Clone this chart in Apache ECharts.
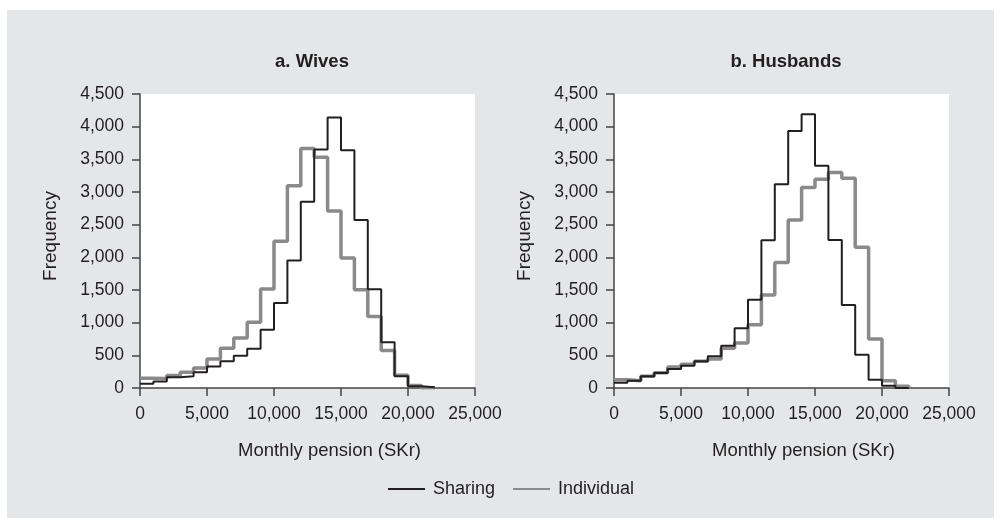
<!DOCTYPE html>
<html>
<head>
<meta charset="utf-8">
<script src="https://cdn.jsdelivr.net/npm/echarts@6/dist/echarts.min.js"></script>
<style>
html,body{margin:0;padding:0;background:#fff;}
#chart{width:1001px;height:528px;}
</style>
</head>
<body>
<div id="chart"></div>
<script>
// Bin left edges (SKr), bin width 1000
var binStarts = [0,1000,2000,3000,4000,5000,6000,7000,8000,9000,10000,11000,12000,13000,14000,15000,16000,17000,18000,19000,20000,21000];
var binEnd = 22000;
var wivesSharing    = [66,100,165,180,240,330,410,495,600,890,1300,1950,2850,3650,4140,3640,2570,1510,700,180,25,10];
var wivesIndividual = [150,145,190,240,305,445,610,765,1005,1515,2245,3095,3665,3530,2710,1990,1505,1095,575,195,40,5];
var husbSharing     = [80,112,178,230,290,340,408,485,645,915,1350,2260,3120,3935,4190,3400,2265,1270,510,125,35,0];
var husbIndividual  = [125,112,178,235,320,365,410,445,610,690,970,1425,1920,2570,3070,3195,3300,3210,2155,750,110,25];
var panelTitles = ['a. Wives','b. Husbands'];
var xName = 'Monthly pension (SKr)';
var yName = 'Frequency';

function steps(vals){
  var d = binStarts.map(function(x,i){return [x, vals[i]];});
  d.push([binEnd, 0]);
  return d;
}
var font = 'Liberation Sans, Arial, Helvetica, sans-serif';
var txt = '#231f20';
var axisCol = '#444';
function fmt(v){return v.toLocaleString('en-US');}

var grids = [
  {left:140, top:94, width:335, height:294, show:true, backgroundColor:'#fff', borderWidth:0},
  {left:614, top:94, width:335, height:294, show:true, backgroundColor:'#fff', borderWidth:0}
];
function xAx(i){return {gridIndex:i, type:'value', min:0, max:25000, interval:5000,
  name:xName, nameLocation:'middle', nameGap:53,
  nameTextStyle:{fontFamily:font, fontSize:18.5, color:txt, padding:[0,0,0,44]},
  axisLine:{show:true, lineStyle:{color:axisCol, width:1.5}},
  axisTick:{show:true, length:8, lineStyle:{color:axisCol, width:1.5}},
  axisLabel:{fontFamily:font, fontSize:17.5, color:txt, margin:17, formatter:fmt},
  splitLine:{show:false}};}
function yAx(i){return {gridIndex:i, type:'value', min:0, max:4500, interval:500,
  name:yName, nameLocation:'middle', nameGap:80, nameRotate:90,
  nameTextStyle:{fontFamily:font, fontSize:19, color:txt, padding:[0,0,0,10]},
  axisLine:{show:true, lineStyle:{color:axisCol, width:1.5}},
  axisTick:{show:true, length:8, lineStyle:{color:axisCol, width:1.5}},
  axisLabel:{fontFamily:font, fontSize:17.5, color:txt, margin:16, formatter:fmt},
  splitLine:{show:false}};}

function ser(name, vals, gi, color, w, z){
  return {name:name, type:'line', step:'end', xAxisIndex:gi, yAxisIndex:gi,
    data:steps(vals), symbol:'none', lineStyle:{color:color, width:w}, itemStyle:{color:color},
    z:z, animation:false};
}
var chart = echarts.init(document.getElementById('chart'), null, {renderer:'canvas'});
chart.setOption({
  animation:false,
  backgroundColor:'#fff',
  graphic:[{type:'rect', silent:true, z:-100, shape:{x:7,y:10,width:987,height:508}, style:{fill:'#e5e6e8'}}],
  title:[
    {text:panelTitles[0], left:307, top:47, textAlign:'center', textStyle:{fontFamily:font, fontSize:18.5, fontWeight:'bold', color:txt}},
    {text:panelTitles[1], left:781, top:47, textAlign:'center', textStyle:{fontFamily:font, fontSize:18.5, fontWeight:'bold', color:txt}}
  ],
  legend:{left:382, top:475, itemWidth:37, itemHeight:14, itemGap:17,
    itemStyle:{opacity:0},
    textStyle:{fontFamily:font, fontSize:18, color:txt, padding:[0,0,0,3]},
    data:['Sharing','Individual']},
  grid:grids,
  xAxis:[xAx(0), xAx(1)],
  yAxis:[yAx(0), yAx(1)],
  series:[
    ser('Individual', wivesIndividual, 0, '#8a8a8a', 3.5, 2),
    ser('Sharing', wivesSharing, 0, '#231f20', 2, 3),
    ser('Individual', husbIndividual, 1, '#8a8a8a', 3.5, 2),
    ser('Sharing', husbSharing, 1, '#231f20', 2, 3)
  ]
});
</script>
</body>
</html>
